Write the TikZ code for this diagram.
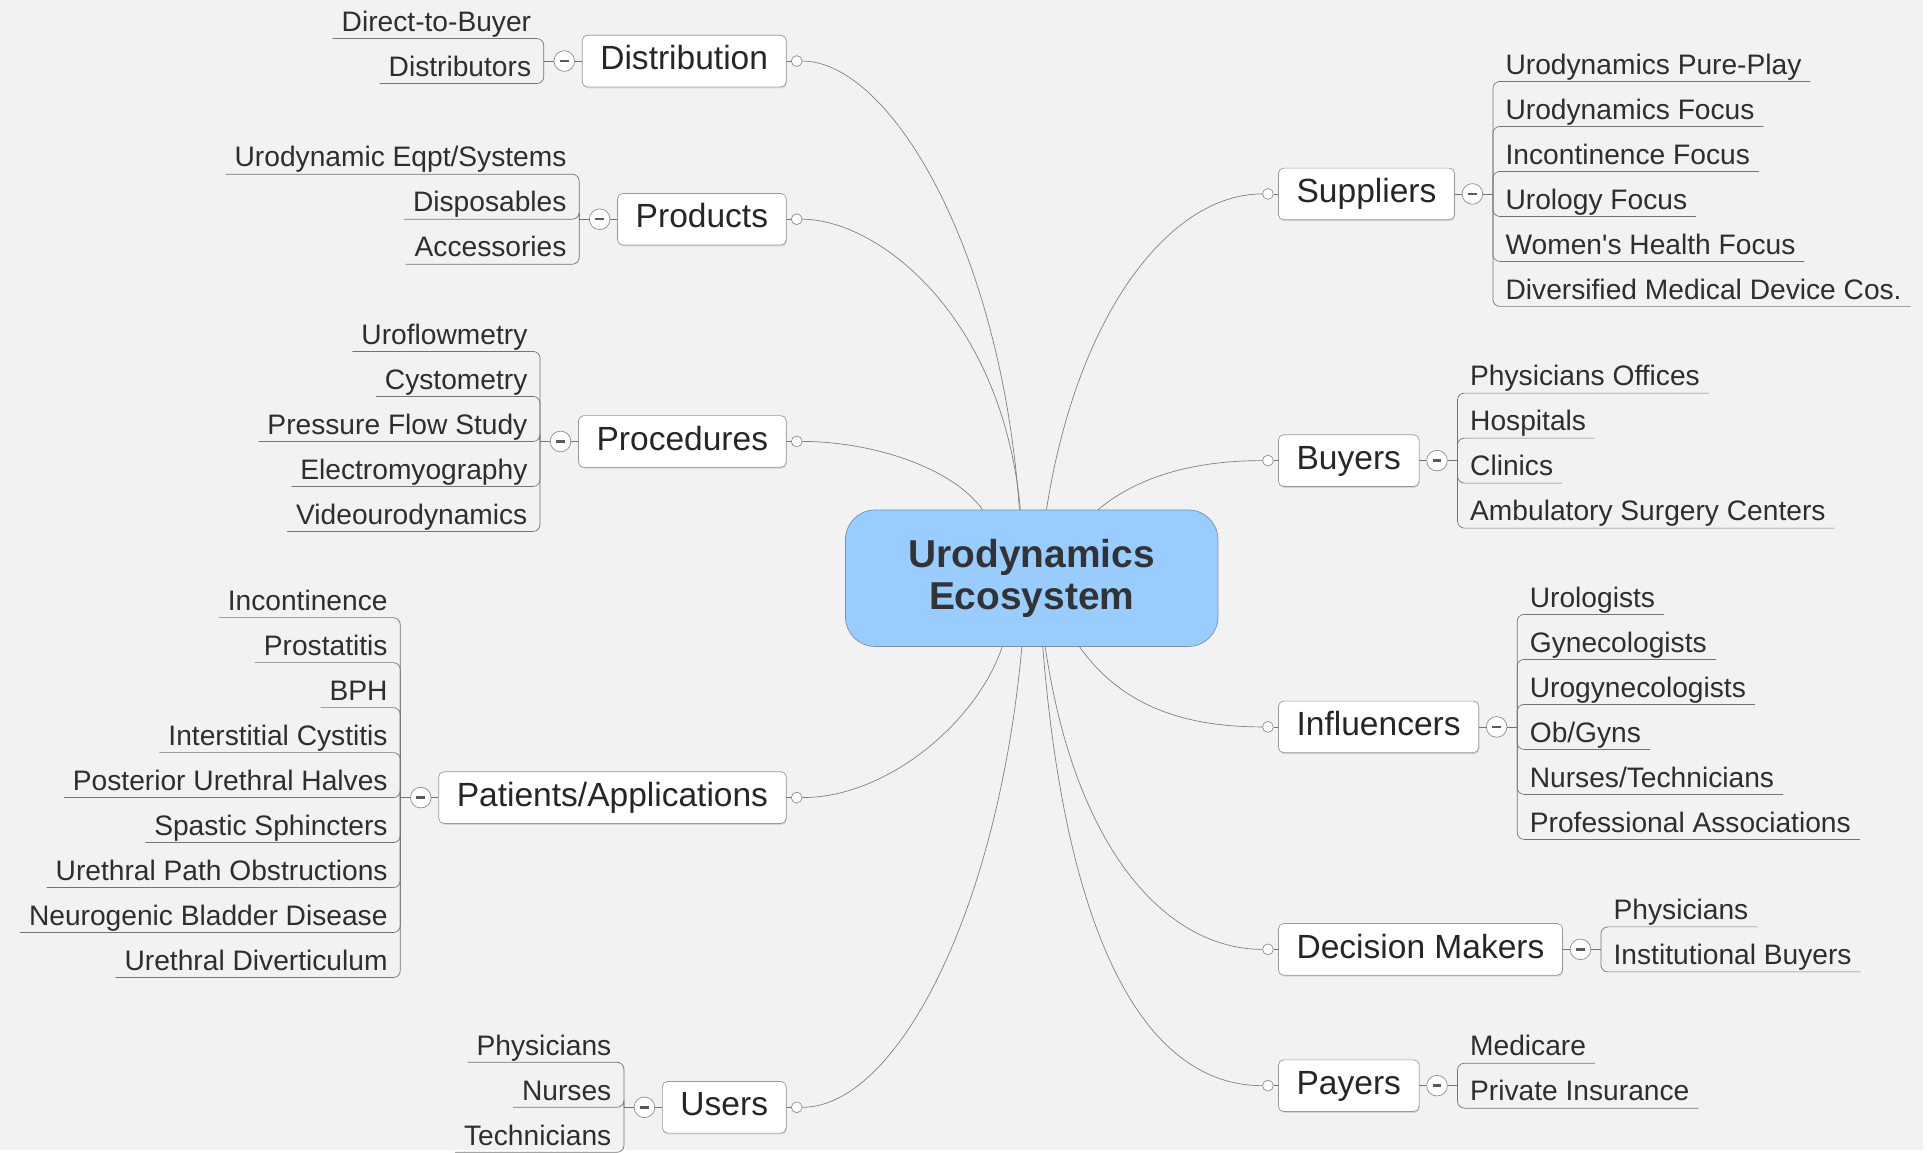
\documentclass[tikz,border=0pt]{standalone}
\usepackage{fontspec}
\setmainfont{Liberation Sans}
\usetikzlibrary{positioning,shadows}
\definecolor{paper}{HTML}{F2F2F2}
\definecolor{rootblue}{HTML}{99CCFF}
\definecolor{rootline}{HTML}{7890A8}
\begin{document}
\begin{tikzpicture}[x=0.025cm,y=-0.025cm]
	\tikzstyle{root}=[rectangle,rounded corners=0.6cm,draw=rootline,fill=rootblue,minimum width=7.575cm,minimum height=2.775cm,align=center,text=black!80,font=\bfseries\fontsize{22.5}{24.5}\selectfont]
	\tikzstyle{topic}=[rectangle,rounded corners=3pt,draw=black!40,fill=white,drop shadow={shadow xshift=0.4pt,shadow yshift=-0.8pt,opacity=0.25},minimum height=1.05cm,inner xsep=10.5pt,text height=14pt,text depth=4pt,text=black!85,font=\fontsize{19.4}{23}\selectfont]
	\tikzstyle{kid}=[inner xsep=5pt,inner ysep=4pt,text depth=0pt,text=black!82,font=\fontsize{16.3}{19}\selectfont]
	\tikzstyle{tog}=[circle,draw=black!45,fill=white,minimum size=0.42cm,inner sep=0pt,path picture={\draw[black!65,line width=1.4pt] ([xshift=-2.6pt]path picture bounding box.center) -- ([xshift=2.6pt]path picture bounding box.center);}]
	\tikzstyle{port}=[circle,draw=black!45,fill=white,minimum size=0.22cm,inner sep=0pt]
	\tikzstyle{branch}=[draw=black!50,thin]
	\tikzstyle{twig}=[draw=black!55,thin,rounded corners=4pt]
	\useasboundingbox (0,0) rectangle (1568,938);
	\fill[paper] (0,0) rectangle (1565,936);
	% centre
	\node [root] (eco) at (839.5,470.5) {Urodynamics\\Ecosystem};
	% left topics
	\node [topic,anchor=east] (dist) at (640,49.7) {Distribution};
	\node [topic,anchor=east] (prod) at (640,178.4) {Products};
	\node [topic,anchor=east] (proc) at (640,359.2) {Procedures};
	\node [topic,anchor=east] (pat) at (640,649) {Patients/Applications};
	\node [topic,anchor=east] (user) at (640,901) {Users};
	% right topics
	\node [topic,anchor=west] (supp) at (1040,157.8) {Suppliers};
	\node [topic,anchor=west] (buy) at (1040,374.8) {Buyers};
	\node [topic,anchor=west] (infl) at (1040,591.5) {Influencers};
	\node [topic,anchor=west] (dec) at (1040,772.5) {Decision Makers};
	\node [topic,anchor=west] (pay) at (1040,883.4) {Payers};
	% subtopics
	\foreach \b/\n/\kids in {dist/2/{Direct-to-Buyer,Distributors},
		prod/3/{Urodynamic Eqpt/Systems,Disposables,Accessories},
		proc/5/{Uroflowmetry,Cystometry,Pressure Flow Study,Electromyography,Videourodynamics},
		pat/9/{Incontinence,Prostatitis,BPH,Interstitial Cystitis,Posterior Urethral Halves,Spastic Sphincters,Urethral Path Obstructions,Neurogenic Bladder Disease,Urethral Diverticulum},
		user/3/{Physicians,Nurses,Technicians}} {
		\node [tog,left=0.14cm of \b] (\b-t) {};
		\node [port,right=0.09cm of \b] (\b-p) {};
		\coordinate [left=0.2cm of \b-t] (\b-h);
		\path[twig] (\b) edge (\b-t) (\b-t) edge (\b-h) (\b) edge (\b-p);
		\foreach \t [count=\i] in \kids {
			\node [kid,anchor=south east] (\b-\i) at ([xshift=-0.075cm,yshift={((\n+1)/2-\i)*0.915cm}]\b-h) {\t};
			\draw[twig] (\b-h) |- (\b-\i.south west);
		}
	}
	\foreach \b/\n/\kids in {supp/6/{Urodynamics Pure-Play,Urodynamics Focus,Incontinence Focus,Urology Focus,Women\textquotesingle s Health Focus,Diversified Medical Device Cos.},
		buy/4/{Physicians Offices,Hospitals,Clinics,Ambulatory Surgery Centers},
		infl/6/{Urologists,Gynecologists,Urogynecologists,Ob/Gyns,Nurses/Technicians,Professional Associations},
		dec/2/{Physicians,Institutional Buyers},
		pay/2/{Medicare,Private Insurance}} {
		\node [tog,right=0.14cm of \b] (\b-t) {};
		\node [port,left=0.09cm of \b] (\b-p) {};
		\coordinate [right=0.2cm of \b-t] (\b-h);
		\path[twig] (\b) edge (\b-t) (\b-t) edge (\b-h) (\b) edge (\b-p);
		\foreach \t [count=\i] in \kids {
			\node [kid,anchor=south west] (\b-\i) at ([xshift=0.075cm,yshift={((\n+1)/2-\i)*0.915cm}]\b-h) {\t};
			\draw[twig] (\b-h) |- (\b-\i.south east);
		}
	}
	% branches from the centre
	\draw[branch] ([xshift=-0.25cm]eco.north) .. controls +(-15,-215) and +(70,0) .. (dist-p.east);
	\draw[branch] ([xshift=-0.23cm]eco.north) .. controls +(-15,-160) and +(60,0) .. (prod-p.east);
	\draw[branch] ([xshift=-1cm]eco.north) .. controls +(-25,-35) and +(55,0) .. (proc-p.east);
	\draw[branch] ([xshift=-0.6cm]eco.south) .. controls +(-20,60) and +(70,0) .. (pat-p.east);
	\draw[branch] ([xshift=-0.2cm]eco.south) .. controls +(-20,220) and +(75,0) .. (user-p.east);
	\draw[branch] ([xshift=0.3cm]eco.north) .. controls +(25,-160) and +(-75,0) .. (supp-p.west);
	\draw[branch] ([xshift=1.35cm]eco.north) .. controls +(30,-25) and +(-60,0) .. (buy-p.west);
	\draw[branch] ([xshift=0.975cm]eco.south) .. controls +(35,50) and +(-60,0) .. (infl-p.west);
	\draw[branch] ([xshift=0.275cm]eco.south) .. controls +(25,170) and +(-75,0) .. (dec-p.west);
	\draw[branch] ([xshift=0.225cm]eco.south) .. controls +(20,250) and +(-90,0) .. (pay-p.west);
\end{tikzpicture}
\end{document}
